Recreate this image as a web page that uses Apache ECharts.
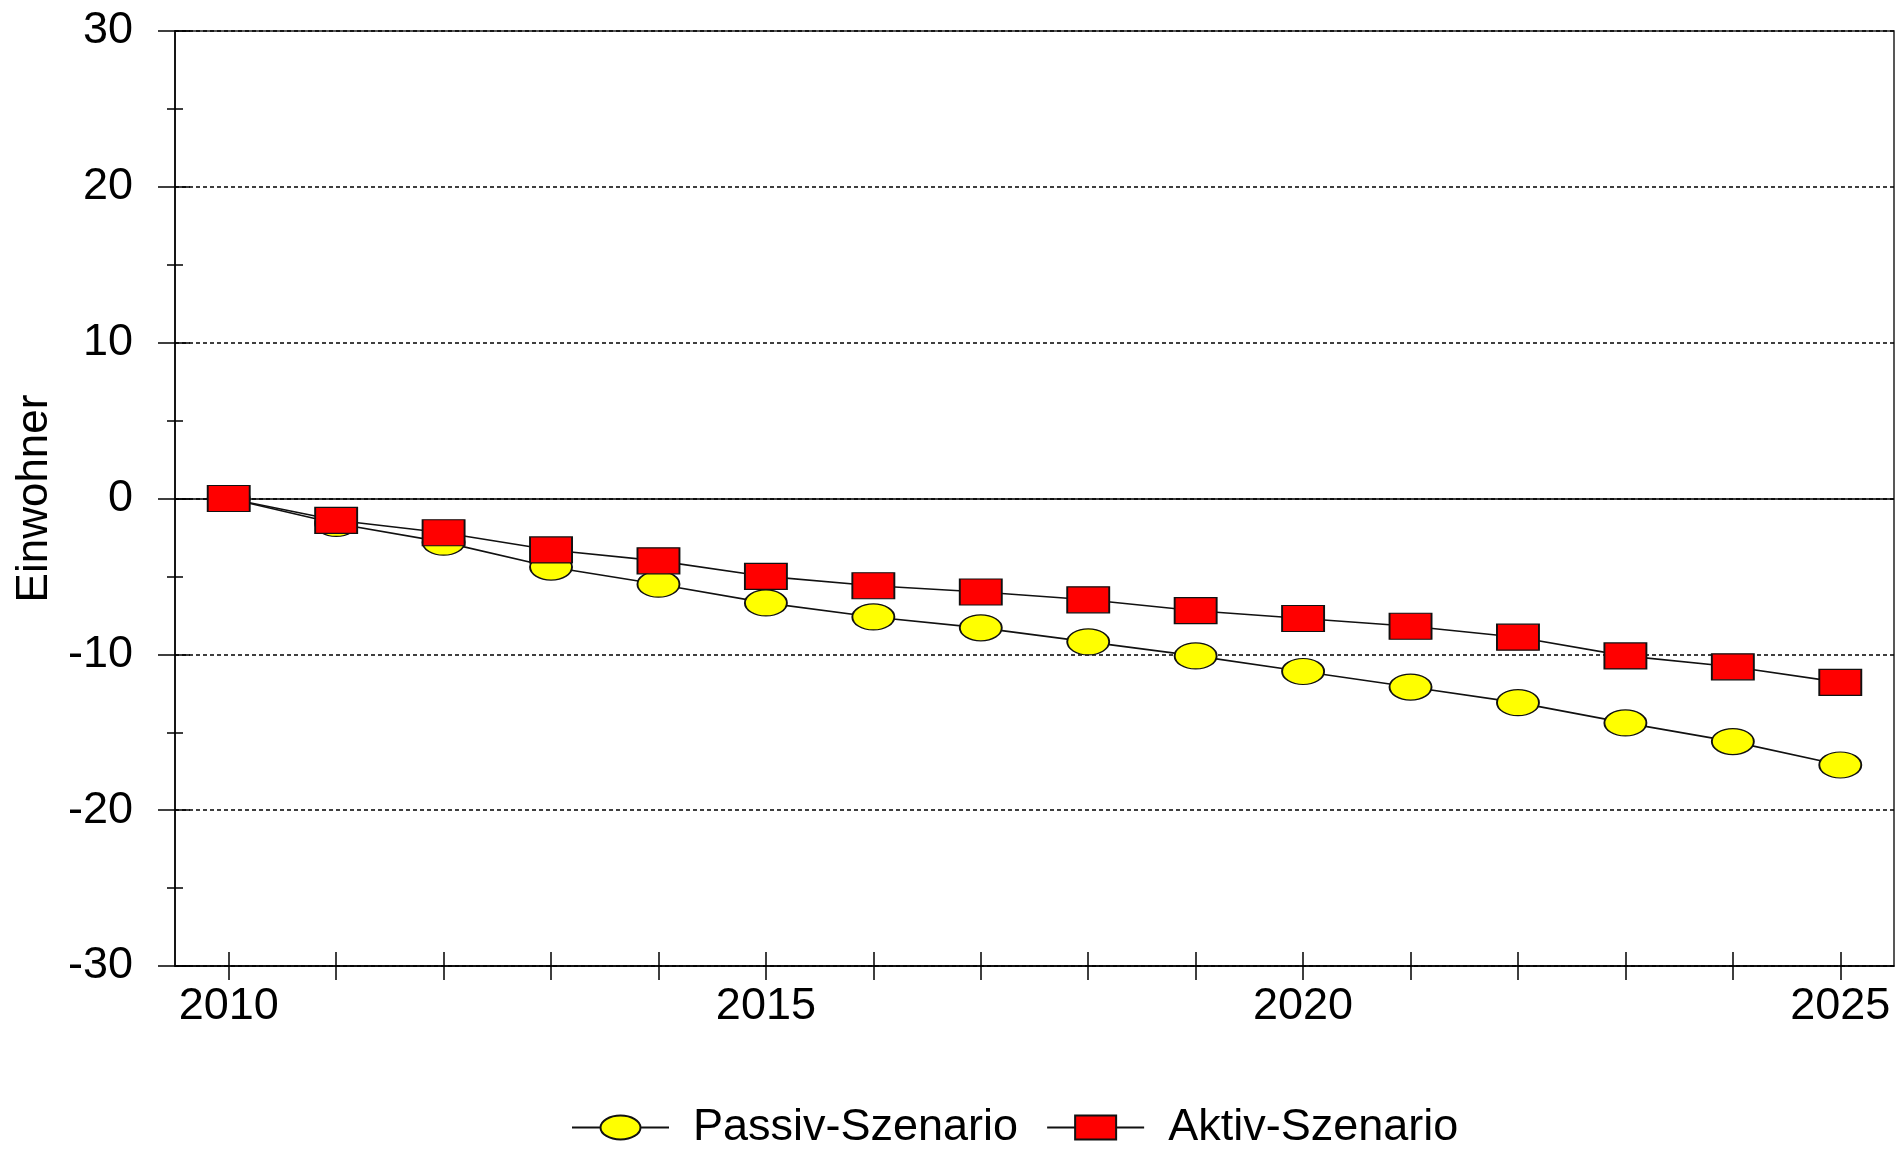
<!DOCTYPE html>
<html>
<head>
<meta charset="utf-8">
<script src="https://cdn.jsdelivr.net/npm/echarts@6/dist/echarts.min.js"></script>
<style>
html,body{margin:0;padding:0;background:#fff;}
#chart{width:1897px;height:1151px;}
</style>
</head>
<body>
<div id="chart"></div>
<script>
const years = ['2010','2011','2012','2013','2014','2015','2016','2017','2018','2019','2020','2021','2022','2023','2024','2025'];
const passiv = [0, -1.6, -2.8, -4.4, -5.5, -6.7, -7.6, -8.3, -9.2, -10.1, -11.1, -12.1, -13.1, -14.4, -15.6, -17.1];
const aktiv  = [0, -1.4, -2.2, -3.3, -4.0, -5.0, -5.6, -6.0, -6.5, -7.2, -7.7, -8.2, -8.9, -10.1, -10.8, -11.8];
const seriesNames = ['Passiv-Szenario', 'Aktiv-Szenario'];
const yAxisName = 'Einwohner';

const FONT = '"Liberation Sans", Arial, sans-serif';
const ellipse = 'path://M0,50 C0,22.4 22.4,0 50,0 C77.6,0 100,22.4 100,50 C100,77.6 77.6,100 50,100 C22.4,100 0,77.6 0,50 Z';
const legEllipse = 'path://M0,12 L28.5,12 M28.5,12 C28.5,5.4 37.5,0 48.5,0 C59.5,0 68.5,5.4 68.5,12 C68.5,18.6 59.5,24 48.5,24 C37.5,24 28.5,18.6 28.5,12 Z M68.5,12 L97,12';
const legRect = 'path://M0,12 L28,12 M28,0 L69,0 L69,24 L28,24 Z M69,12 L97,12';

const chart = echarts.init(document.getElementById('chart'), null, {renderer: 'canvas'});
chart.setOption({
  animation: false,
  backgroundColor: '#fff',
  textStyle: {fontFamily: FONT, color: '#000'},
  grid: {left: 175, right: 3, top: 31, bottom: 185, show: true, borderColor: '#222', borderWidth: 1.5, backgroundColor: 'transparent'},
  legend: {
    left: 571, top: 1105, padding: 0,
    itemWidth: 97, itemHeight: 24, itemGap: 28,
    selectedMode: false,
    textStyle: {fontFamily: FONT, fontSize: 45, color: '#000', lineHeight: 45, padding: [0, 0, 0, 19]},
    data: [
      {name: seriesNames[0], icon: legEllipse},
      {name: seriesNames[1], icon: legRect}
    ]
  },
  xAxis: [
    {
      type: 'category', data: years, boundaryGap: true, position: 'bottom',
      axisLine: {show: true, onZero: false, lineStyle: {color: '#000', width: 1.5}},
      axisTick: {show: true, interval: 0, alignWithLabel: true, length: 14, lineStyle: {color: '#000', width: 1.5}},
      axisLabel: {interval: 4, margin: 18, fontFamily: FONT, fontSize: 45, color: '#000'},
      splitLine: {show: false}
    },
    {
      type: 'category', data: years, boundaryGap: true, position: 'bottom',
      axisLine: {show: false, onZero: false},
      axisTick: {show: true, inside: true, interval: 0, alignWithLabel: true, length: 14, lineStyle: {color: '#000', width: 1.5}},
      axisLabel: {show: false},
      splitLine: {show: false}
    }
  ],
  yAxis: [
    {
      type: 'value', min: -30, max: 30, interval: 10, position: 'left',
      name: yAxisName, nameLocation: 'middle', nameRotate: 90, nameGap: 117,
      nameTextStyle: {fontFamily: FONT, fontSize: 44, color: '#000'},
      axisLine: {show: true, onZero: false, lineStyle: {color: '#000', width: 1.5}},
      axisTick: {show: true, length: 17, lineStyle: {color: '#000', width: 1.5}},
      minorTick: {show: true, splitNumber: 2, length: 8, lineStyle: {color: '#000', width: 1.5}},
      axisLabel: {margin: 42, fontFamily: FONT, fontSize: 45, color: '#000'},
      splitLine: {show: true, lineStyle: {color: '#000', width: 1.6, type: [4, 3]}}
    },
    {
      type: 'value', min: -30, max: 30, interval: 10, position: 'left',
      axisLine: {show: false, onZero: false},
      axisTick: {show: true, inside: true, length: 15, lineStyle: {color: '#000', width: 1.5}},
      minorTick: {show: true, splitNumber: 2, length: 8, lineStyle: {color: '#000', width: 1.5}},
      axisLabel: {show: false},
      splitLine: {show: false}
    }
  ],
  series: [
    {
      name: seriesNames[0], type: 'line', data: passiv, xAxisIndex: 0, yAxisIndex: 0,
      symbol: ellipse, symbolSize: [42, 26], showAllSymbol: true,
      lineStyle: {color: '#111', width: 1.6},
      itemStyle: {color: '#FFFF00', borderColor: '#111', borderWidth: 1.5},
      emphasis: {disabled: true}
    },
    {
      name: seriesNames[1], type: 'line', data: aktiv, xAxisIndex: 0, yAxisIndex: 0,
      symbol: 'rect', symbolSize: [42, 26], showAllSymbol: true,
      lineStyle: {color: '#111', width: 1.6},
      itemStyle: {color: '#FF0000', borderColor: '#111', borderWidth: 1.5},
      emphasis: {disabled: true},
      markLine: {
        silent: true, symbol: 'none', z: 1, animation: false,
        label: {show: false},
        lineStyle: {color: '#000', type: 'solid', width: 1.5},
        data: [{yAxis: 0}]
      }
    }
  ]
});
</script>
</body>
</html>
